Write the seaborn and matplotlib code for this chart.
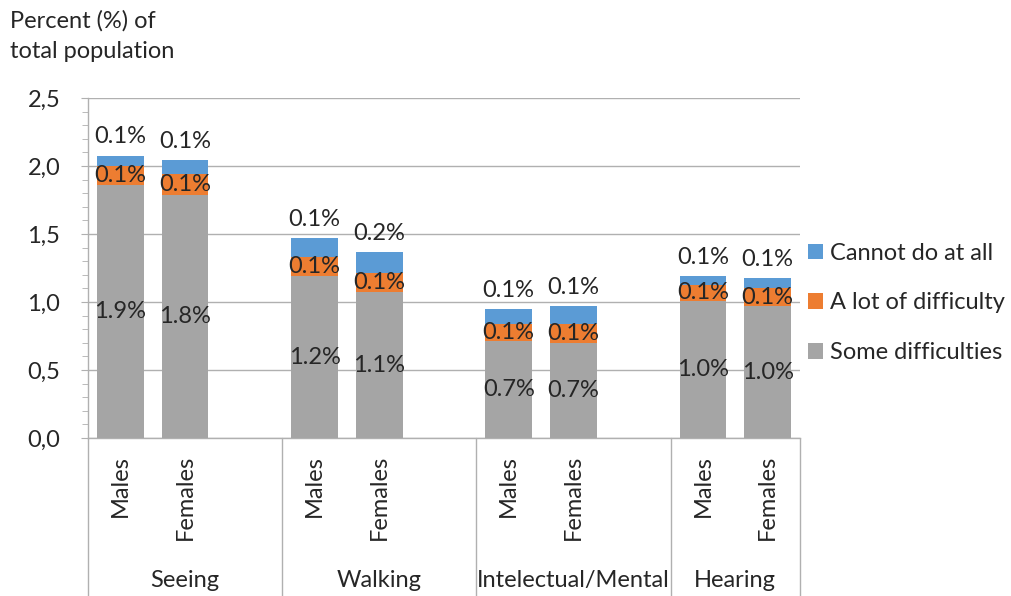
import pandas as pd
import matplotlib
matplotlib.use("Agg")
import matplotlib.pyplot as plt
import matplotlib.transforms as mtransforms
from matplotlib.ticker import MultipleLocator
import seaborn as sns

groups = ["Seeing", "Walking", "Intelectual/Mental", "Hearing"]
sexes = ["Males", "Females"]
some = [1.86, 1.79, 1.19, 1.07, 0.71, 0.70, 1.01, 0.97]
lot = [0.14, 0.15, 0.14, 0.14, 0.13, 0.14, 0.115, 0.13]
cannot = [0.076, 0.105, 0.137, 0.159, 0.105, 0.13, 0.068, 0.078]
series_names = ["Cannot do at all", "A lot of difficulty", "Some difficulties"]
colors = ["#5B9BD5", "#ED7D31", "#A5A5A5"]
yticks = [0.0, 0.5, 1.0, 1.5, 2.0, 2.5]

rows = []
for i, g in enumerate(groups):
    for j, s in enumerate(sexes):
        k = 2 * i + j
        rows.append({"cat": f"{g} {s}", "group": g, "sex": s,
                     "some": some[k], "lot": lot[k], "cannot": cannot[k]})
df = pd.DataFrame(rows)
df["lot_top"] = df["some"] + df["lot"]
df["total"] = df["lot_top"] + df["cannot"]

# category slots with an empty slot between groups (like the Excel chart)
order = []
for i, g in enumerate(groups):
    order += [f"{g} {s}" for s in sexes]
    if i < len(groups) - 1:
        order.append(f"gap{i}")
pos = {c: order.index(c) for c in df["cat"]}

sns.set_style("white")
plt.rcParams["font.family"] = ["Lato", "DejaVu Sans"]
txt = "#262626"
fs = 17

fig, ax = plt.subplots(figsize=(10.11, 5.96), dpi=100)
fig.subplots_adjust(left=88 / 1011, right=800 / 1011, top=1 - 98 / 596, bottom=1 - 438 / 596)

# stacked bars drawn as overlapping cumulative totals
for col, name, c in zip(["total", "lot_top", "some"], series_names, colors):
    sns.barplot(data=df, x="cat", y=col, order=order, color=c, width=0.72,
                saturation=1, label=name, linewidth=0, edgecolor="none", ax=ax, zorder=3)

handles, labels = ax.get_legend_handles_labels()
if ax.get_legend() is not None:
    ax.get_legend().remove()

ax.set_xlim(-0.5, len(order) - 0.5)
ax.set_ylim(0, 2.5)
ax.set_yticks(yticks)
ax.set_yticklabels([f"{v:.1f}".replace(".", ",") for v in yticks], fontsize=fs, color=txt)
ax.yaxis.set_minor_locator(MultipleLocator(0.1))
ax.tick_params(axis="y", which="major", length=5, color="#b0b0b0", pad=15, direction="out", left=True)
ax.tick_params(axis="y", which="minor", length=4, color="#b0b0b0", direction="out", left=True)
ax.set_xticks([])
ax.set_xlabel("")
ax.set_ylabel("")
ax.grid(axis="y", color="#b0b0b0", linewidth=1, zorder=0)
for side in ["top", "right"]:
    ax.spines[side].set_visible(False)
for side in ["left", "bottom"]:
    ax.spines[side].set_color("#b0b0b0")
    ax.spines[side].set_linewidth(1)

# data labels
for _, r in df.iterrows():
    x = pos[r["cat"]]
    ax.text(x, r["some"] / 2, f"{r['some']:.1f}%", ha="center", va="center", fontsize=fs, color=txt, zorder=5)
    ax.text(x, r["some"] + r["lot"] / 2, f"{r['lot']:.1f}%", ha="center", va="center", fontsize=fs, color=txt, zorder=5)
    ax.annotate(f"{r['cannot']:.1f}%", (x, r["total"]), xytext=(0, 13.5), textcoords="offset points",
                ha="center", va="center", fontsize=fs, color=txt, zorder=5)

# multi-level category axis
trans = mtransforms.blended_transform_factory(ax.transData, ax.transAxes)
for _, r in df.iterrows():
    ax.text(pos[r["cat"]], -0.05, r["sex"], rotation=90, ha="center", va="top",
            fontsize=fs, color=txt, transform=trans)
bounds = [-0.5]
for i, g in enumerate(groups):
    first = pos[f"{g} {sexes[0]}"]
    last = pos[f"{g} {sexes[-1]}"]
    right = last + 1.5 if i < len(groups) - 1 else last + 0.5
    ax.text((first - 0.5 + right) / 2, -0.418, g, ha="center", va="center",
            fontsize=fs, color=txt, transform=trans)
    bounds.append(right)
for b in bounds:
    ax.plot([b, b], [0, -0.47], color="#b0b0b0", linewidth=1, transform=trans, clip_on=False)

fig.text(10 / 1011, 1 - 10 / 596, "Percent (%) of\ntotal population", ha="left", va="top",
         fontsize=fs, color=txt, linespacing=1.55)

fig.legend(handles, labels, loc="center left", bbox_to_anchor=(803 / 1011, 1 - 303 / 596),
           frameon=False, fontsize=fs, handlelength=0.65, handleheight=0.65, handletextpad=0.3,
           labelspacing=1.22, labelcolor=txt, borderaxespad=0, borderpad=0.2)

fig.savefig("out.png", dpi=100)
